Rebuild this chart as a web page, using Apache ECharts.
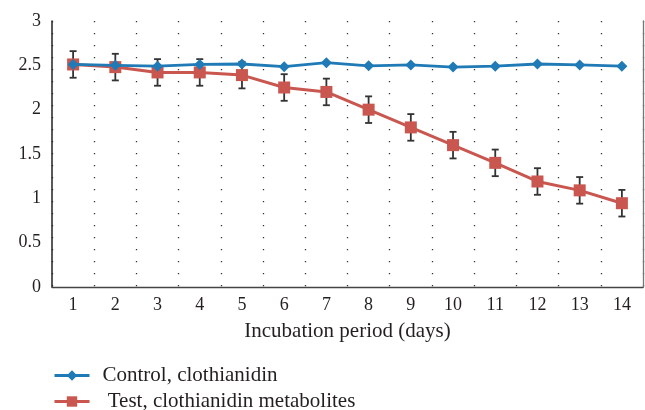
<!DOCTYPE html>
<html>
<head>
<meta charset="utf-8">
<script src="https://cdn.jsdelivr.net/npm/echarts@6/dist/echarts.min.js"></script>
<style>
  html, body { margin: 0; padding: 0; background: #fff; }
  #chart { width: 645px; height: 410px; }
</style>
</head>
<body>
<div id="chart"></div>
<script>
// Incubation days on the x axis
const days = ['1', '2', '3', '4', '5', '6', '7', '8', '9', '10', '11', '12', '13', '14'];
// Control series (clothianidin)
const controlValues = [2.51, 2.50, 2.49, 2.51, 2.515, 2.485, 2.53, 2.495, 2.505, 2.48, 2.49, 2.515, 2.505, 2.49];
// Test series (clothianidin metabolites) and its standard error
const testValues = [2.51, 2.48, 2.42, 2.42, 2.39, 2.25, 2.20, 2.00, 1.80, 1.60, 1.40, 1.19, 1.09, 0.945];
const testErrors = [0.15, 0.15, 0.15, 0.15, 0.15, 0.15, 0.15, 0.15, 0.15, 0.15, 0.15, 0.15, 0.15, 0.15];
// y axis ticks
const yTicks = [0, 0.5, 1, 1.5, 2, 2.5, 3];

const CONTROL_NAME = 'Control, clothianidin';
const TEST_NAME = ' Test, clothianidin metabolites';

const FONT = '"Liberation Serif", "Times New Roman", serif';
const BLUE = '#1f7ab6';
const RED = '#c9574f';
const TEXT = '#231f20';

const errorData = testValues.map((v, i) => [i, v - testErrors[i], v + testErrors[i]]);

const legendBase = {
  orient: 'vertical',
  left: 48,
  itemWidth: 35,
  itemHeight: 13,
  lineStyle: { width: 3 },
  textStyle: { fontFamily: FONT, fontSize: 21, color: TEXT, padding: [0, 0, 0, 8] }
};

const chart = echarts.init(document.getElementById('chart'), null, { renderer: 'canvas' });

chart.setOption({
  animation: false,
  backgroundColor: '#fff',
  grid: { left: 52, right: 2, top: 21, bottom: 123, containLabel: false },
  xAxis: {
    type: 'category',
    data: days,
    boundaryGap: true,
    name: 'Incubation period (days)',
    nameLocation: 'middle',
    nameGap: 34,
    nameTextStyle: { fontFamily: FONT, fontSize: 21, color: TEXT },
    axisLine: { show: true, lineStyle: { color: '#444', width: 1.3 } },
    axisTick: { show: false },
    axisLabel: { fontFamily: FONT, fontSize: 18, color: TEXT, margin: 9 },
    splitLine: {
      show: true,
      lineStyle: { color: '#333', width: 1.3, type: [1.3, 10.7] }
    }
  },
  yAxis: [{
    type: 'value',
    min: yTicks[0],
    max: yTicks[yTicks.length - 1],
    interval: 0.5,
    axisLine: { show: true, lineStyle: { color: '#222', width: 1.5 } },
    axisTick: { show: false },
    axisLabel: { fontFamily: FONT, fontSize: 18, color: TEXT, margin: 11 },
    splitLine: { show: false }
  }, {
    type: 'value',
    position: 'right',
    min: yTicks[0],
    max: yTicks[yTicks.length - 1],
    interval: 0.5,
    axisLine: { show: true, lineStyle: { color: '#777', width: 1.3 } },
    axisTick: { show: false },
    axisLabel: { show: false },
    splitLine: { show: false }
  }],
  legend: [
    Object.assign({}, legendBase, { top: 360, data: [CONTROL_NAME] }),
    Object.assign({}, legendBase, { top: 386, data: [TEST_NAME] })
  ],
  series: [
    {
      type: 'custom',
      name: 'errors',
      z: 1,
      data: errorData,
      renderItem: function (params, api) {
        const x = api.value(0);
        const lo = api.coord([x, api.value(1)]);
        const hi = api.coord([x, api.value(2)]);
        const half = 3.5;
        const style = { stroke: '#333', lineWidth: 1.8, fill: null };
        return {
          type: 'group',
          children: [
            { type: 'line', shape: { x1: lo[0], y1: lo[1], x2: hi[0], y2: hi[1] }, style: style },
            { type: 'line', shape: { x1: lo[0] - half, y1: lo[1], x2: lo[0] + half, y2: lo[1] }, style: style },
            { type: 'line', shape: { x1: hi[0] - half, y1: hi[1], x2: hi[0] + half, y2: hi[1] }, style: style }
          ]
        };
      }
    },
    {
      type: 'line',
      name: CONTROL_NAME,
      z: 3,
      data: controlValues,
      symbol: 'diamond',
      symbolSize: 11,
      showAllSymbol: true,
      lineStyle: { color: BLUE, width: 2.8 },
      itemStyle: { color: BLUE }
    },
    {
      type: 'line',
      name: TEST_NAME,
      z: 2,
      data: testValues,
      symbol: 'rect',
      symbolSize: 12,
      showAllSymbol: true,
      lineStyle: { color: RED, width: 3 },
      itemStyle: { color: RED }
    }
  ]
});
</script>
</body>
</html>
